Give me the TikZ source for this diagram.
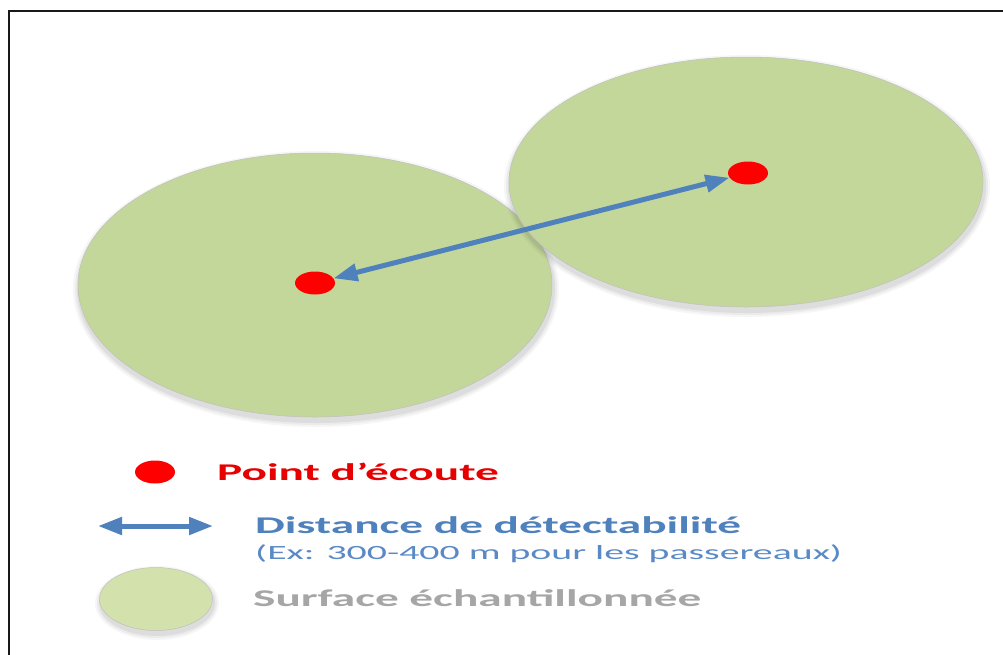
\documentclass[tikz,border=0pt]{standalone}
\usepackage{fontspec}
\setmainfont{Carlito}
\usetikzlibrary{arrows.meta,shapes.geometric}

\definecolor{discin}{HTML}{C4D79B}
\definecolor{discmid}{HTML}{B4C786}
\definecolor{discout}{HTML}{8EA25F}
\definecolor{keyin}{HTML}{D3E2AC}
\definecolor{dotred}{HTML}{FF0000}
\definecolor{arrowblue}{HTML}{4F81BD}
\definecolor{labelred}{HTML}{E60000}
\definecolor{subblue}{HTML}{5A8AC6}
\definecolor{labelgray}{HTML}{A6A6A6}

% lighter towards the top, darker rim towards the bottom
\pgfdeclareradialshading{disc}{\pgfpoint{0bp}{10bp}}{%
  color(0bp)=(discin); color(43bp)=(discin);
  color(48bp)=(discmid); color(50bp)=(discout)}
\pgfdeclareradialshading{keydisc}{\pgfpoint{0bp}{14bp}}{%
  color(0bp)=(keyin); color(30bp)=(keyin);
  color(46bp)=(discin); color(50bp)=(discout)}

% soft shadow under a disc: centre x, centre y, x radius, y radius
\newcommand\softshadow[4]{%
  \foreach \g/\o in {6/0.035,4/0.045,2/0.06}
    \fill[black,opacity=\o] (#1+1,#2+4) ellipse [x radius=#3+\g, y radius=#4+\g];}

\begin{document}
\begin{tikzpicture}[x=1pt,y=-1pt,
  disc/.style={ellipse, inner sep=0pt, shade, shading=disc,
    draw=gray!50, line width=0.5pt},
  keydisc/.style={disc, shading=keydisc},
  dot/.style={ellipse, fill=dotred, inner sep=0pt,
    minimum width=40pt, minimum height=23pt},
  dist/.style={draw=arrowblue, line width=5pt,
    {Triangle[width=17pt,length=24pt]}-{Triangle[width=17pt,length=24pt]}},
  lbl/.style={anchor=base west, inner sep=0pt},
]
\useasboundingbox (0,0) rectangle (1003,654);
\clip (0,0) rectangle (1003,654);
\fill[white] (0,0) rectangle (1003,654);
\draw[line width=2.8pt, black!90] (9,700) -- (9,11) -- (1060,11);

% sampled areas
\softshadow{315}{285}{237}{132}
\node[disc, minimum width=474pt, minimum height=264pt] (areaL) at (315,285) {};
\softshadow{746}{182}{237}{125}
\node[disc, minimum width=474pt, minimum height=250pt] (areaR) at (746,182) {};

% listening points and the distance between them
\node[dot] (pL) at (315,283) {};
\node[dot] (pR) at (748,173) {};
\draw[dist] (pL) -- (pR);

% key
\node[dot] (kDot) at (155,472) {};
\node[lbl, text=labelred] (tPoint) at (217,480)
  {\scalebox{1.97}[1]{\fontsize{24}{28}\selectfont\bfseries Point d’écoute}};

\coordinate (kA) at (98,526);
\coordinate (kB) at (213,526);
\draw[dist] (kA) -- (kB);
\node[lbl, text=arrowblue] (tDist) at (255,533)
  {\scalebox{1.97}[1]{\fontsize{24}{28}\selectfont\bfseries Distance de détectabilité}};
\node[lbl, text=subblue] (tEx) at (255,559)
  {\scalebox{1.97}[1]{\fontsize{20.2}{24}\selectfont (Ex: 300-400 m pour les passereaux)}};

\softshadow{156}{599}{56}{31}
\node[keydisc, minimum width=113pt, minimum height=63pt] (kDisc) at (156,599) {};
\node[lbl, text=labelgray] (tSurf) at (253,606)
  {\scalebox{1.97}[1]{\fontsize{24}{28}\selectfont\bfseries Surface échantillonnée}};
\end{tikzpicture}
\end{document}
